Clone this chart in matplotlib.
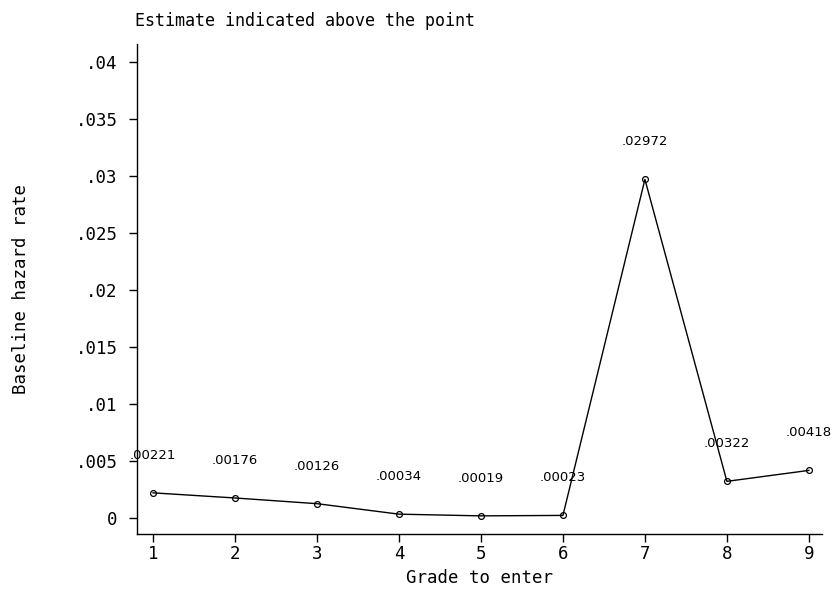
# baseline hazard by grade -----------------------------------------------------
import matplotlib
matplotlib.use('Agg')
from matplotlib import pyplot as plt

grades = [1, 2, 3, 4, 5, 6, 7, 8, 9]
hazard = [0.00221, 0.00176, 0.00126, 0.00034, 0.00019, 0.00023, 0.02972, 0.00322, 0.00418]
y_ticks = [0, 0.005, 0.01, 0.015, 0.02, 0.025, 0.03, 0.035, 0.04]
y_tick_labels = ['0', '.005', '.01', '.015', '.02', '.025', '.03', '.035', '.04']


def stata_fmt(v):
    s = f'{v:.5f}'
    return s[1:] if s.startswith('0') else s


def main():
    mono = 'DejaVu Sans Mono'
    fig = plt.figure(figsize=(8.33, 5.89), dpi=100)
    ax = fig.add_axes([0.1645, 0.0934, 0.8223, 0.8319])

    ax.plot(grades, hazard, color='black', lw=1.0, marker='o', ms=4.2,
            mfc='none', mec='black', mew=0.9)
    for g, h in zip(grades, hazard):
        ax.annotate(stata_fmt(h), (g, h), xytext=(0, 27), textcoords='offset points',
                    ha='center', va='center', fontsize=9.5, family='DejaVu Sans')

    ax.set_xlim(0.805, 9.16)
    ax.set_ylim(-0.0014, 0.0416)
    ax.set_xticks(grades)
    ax.set_xticklabels([str(g) for g in grades], family=mono, fontsize=12.5)
    ax.set_yticks(y_ticks)
    ax.set_yticklabels(y_tick_labels, family=mono, fontsize=12.5)
    ax.tick_params(direction='out', length=6, width=1.0, color='black')
    ax.tick_params(axis='y', pad=8)
    ax.tick_params(axis='x', pad=2)

    ax.spines['top'].set_visible(False)
    ax.spines['right'].set_visible(False)
    for s in ('left', 'bottom'):
        ax.spines[s].set_linewidth(1.0)

    ax.set_xlabel('Grade to enter', family=mono, fontsize=12.5, labelpad=4)
    ax.set_ylabel('Baseline hazard rate', family=mono, fontsize=12.5, labelpad=33)
    fig.text(0.162, 0.965, 'Estimate indicated above the point', family=mono,
             fontsize=12, ha='left', va='center')

    fig.savefig('out.png', dpi=100)


if __name__ == '__main__':
    main()
